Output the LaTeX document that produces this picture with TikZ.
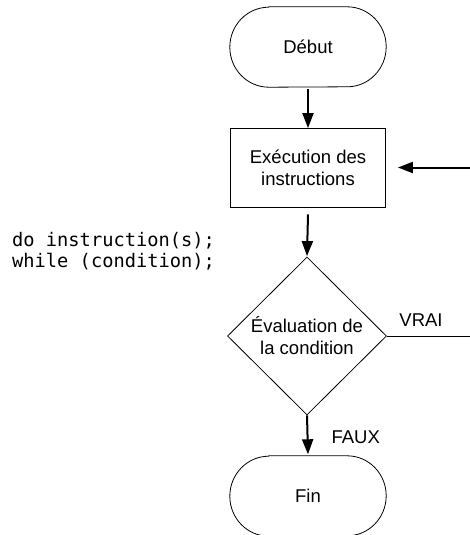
\documentclass[tikz,border=0pt]{standalone}
\usepackage{fontspec}
\setmainfont{Liberation Sans}
\setmonofont{DejaVu Sans Mono}
\usetikzlibrary{shapes.geometric,arrows.meta}
\tikzset{
  px/.style={x=1pt,y=-1pt},
  txt/.style={font=\fontsize{18.5}{22}\selectfont},
  term/.style={rectangle,minimum width=156pt,minimum height=80pt,inner sep=0pt,align=center,txt},
  termline/.style={line width=0.8pt},
  proc/.style={draw,line width=0.8pt,rectangle,minimum width=155pt,minimum height=79pt,inner sep=0pt,align=center,txt},
  cond/.style={draw,line width=0.8pt,diamond,minimum width=159pt,minimum height=158pt,inner sep=0pt,align=center,txt},
  flow/.style={line width=2pt,-{Triangle[length=15pt,width=11pt]}},
  lbl/.style={txt},
}
\begin{document}
\begin{tikzpicture}[px]
\useasboundingbox (0,0) rectangle (470,535);
\node[term] (debut) at (308,47) {Début};
\node[proc] (exec) at (308,167.5) {Exécution des\\instructions};
\node[cond] (eval) at (307,336) {Évaluation de\\la condition};
\node[term] (fin) at (308,496) {Fin};
\foreach \n in {debut,fin}{
  \draw[termline] ([xshift=39pt]\n.north west) -- ([xshift=-39pt]\n.north east)
    arc[start angle=90,end angle=-90,x radius=39pt,y radius=40pt]
    -- ([xshift=39pt]\n.south west)
    arc[start angle=270,end angle=90,x radius=39pt,y radius=40pt] -- cycle;
}
\coordinate (rtop) at (470,167.5);
\coordinate (rbot) at (470,336);
\draw[flow] ([yshift=-2pt]debut.south) -- ([yshift=-0.5pt]exec.north);
\draw[flow] ([yshift=-7pt]exec.south) -- ([yshift=0.5pt]eval.north);
\draw[flow] (eval.south) -- ([yshift=1.5pt]fin.north);
\draw[flow] (rtop) -- ([xshift=12pt]exec.east);
\draw[line width=0.8pt] (eval.east) -- (rbot);
\node[lbl,anchor=south] (vrai) at (421,330) {VRAI};
\node[lbl,anchor=west] (faux) at (328,437) {FAUX};
\node[anchor=west,align=left,inner sep=0pt,font=\ttfamily\fontsize{18.7}{20.5}\selectfont] (code) at (12,251) {do instruction(s);\\while (condition);};
\end{tikzpicture}
\end{document}
